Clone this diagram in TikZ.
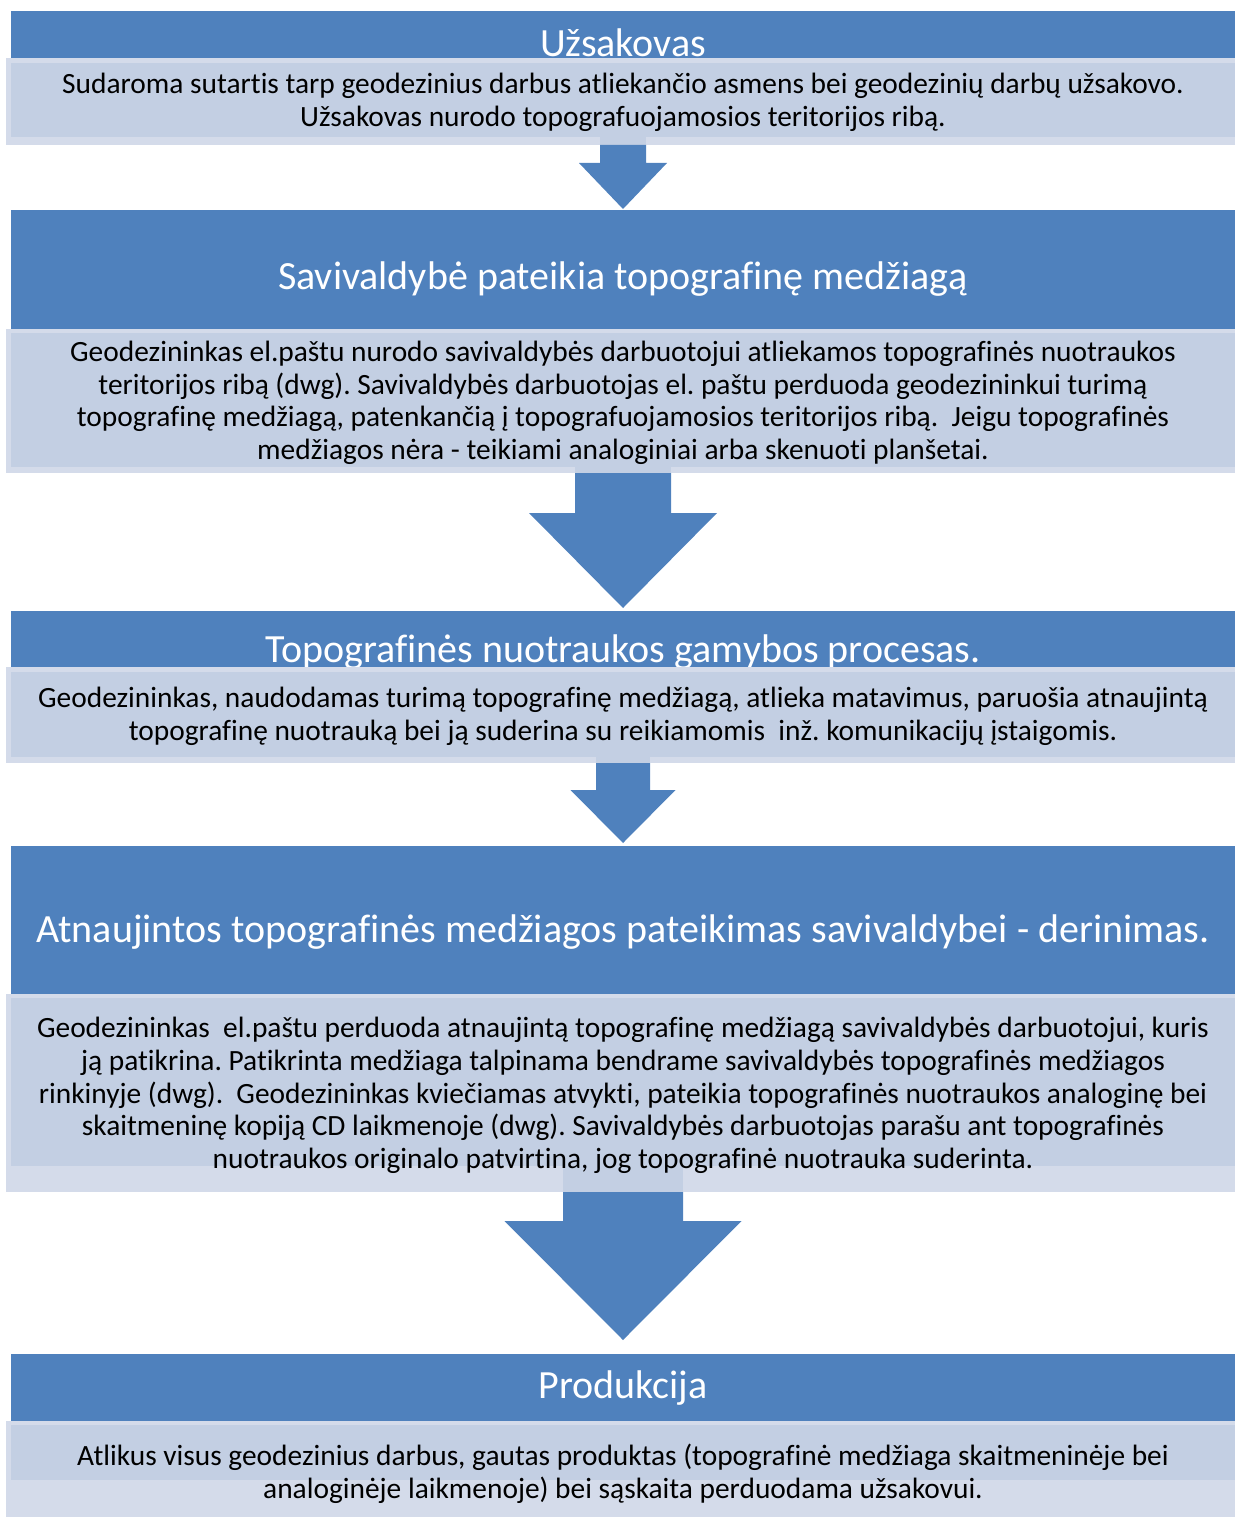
\documentclass[tikz,border=0pt]{standalone}
\usepackage{fontspec}
\setmainfont{Carlito}[Ligatures=CommonOff]
\frenchspacing
\definecolor{hblue}{HTML}{4F81BD}
\definecolor{bin}{HTML}{C3CFE3}
\definecolor{bout}{HTML}{D4DBEA}
\newcommand{\boxat}[6]{% name, style, x1, y1, x2, y2
  \node[#2, anchor=north west, minimum width=#5-#3, minimum height=#6-#4] (#1) at (#3,#4) {};}
\newcommand{\blockarr}[7]{% name, cx, top, headtop, tip, shafthalf, headhalf
  \fill[hblue] (#2-#6,#3) -- (#2-#6,#4) -- (#2-#7,#4) -- (#2,#5) -- (#2+#7,#4) -- (#2+#6,#4) -- (#2+#6,#3) -- cycle;
  \coordinate (#1) at (#2,#5);}
\begin{document}
\begin{tikzpicture}[x=1pt,y=-1pt,
  hdr/.style={fill=hblue, draw=none, inner sep=0, outer sep=0},
  bo/.style={fill=bout, draw=none, inner sep=0, outer sep=0},
  bi/.style={fill=bin, draw=none, inner sep=0, outer sep=0},
  ttl/.style={text=white, font=\fontsize{40}{48}\selectfont, inner sep=0},
  btxt/.style={text=black, font=\fontsize{29.4}{32.6}\selectfont\frenchspacing, align=center, inner sep=0}]
\useasboundingbox (0,0) rectangle (1235,1517);

% ---------- block 1
\boxat{h1}{hdr}{11}{11}{1235}{58}
\node[ttl] (t1) at (623,43) {Užsakovas};
\boxat{b1o}{bo}{6}{58}{1235}{145}
\boxat{b1i}{bi}{11}{63}{1235}{137}
\node[btxt] (x1) at (623,102.5) {Sudaroma sutartis tarp geodezinius darbus atliekančio asmens bei geodezinių darbų užsakovo.\\Užsakovas nurodo topografuojamosios teritorijos ribą.};
\fill[bin] (600,137) rectangle (646,145);
\blockarr{a1}{623}{145}{163}{209}{23}{44}

% ---------- block 2
\boxat{h2}{hdr}{11}{210}{1235}{329}
\node[ttl] (t2) at (623,279) {Savivaldybė pateikia topografinę medžiagą};
\boxat{b2o}{bo}{6}{329}{1235}{473}
\boxat{b2i}{bi}{11}{333}{1235}{467}
\node[btxt] (x2) at (623,403) {Geodezininkas el.paštu nurodo savivaldybės darbuotojui atliekamos topografinės nuotraukos\\teritorijos ribą (dwg). Savivaldybės darbuotojas el. paštu perduoda geodezininkui turimą\\topografinę medžiagą, patenkančią į topografuojamosios teritorijos ribą.\ \ Jeigu topografinės\\medžiagos nėra - teikiami analoginiai arba skenuoti planšetai.};
\fill[bin] (575,467) rectangle (671,473);
\blockarr{a2}{623}{473}{513}{608}{48}{94}

% ---------- block 3
\boxat{h3}{hdr}{11}{611}{1235}{667}
\node[ttl] (t3) at (623,652) {Topografinės nuotraukos gamybos procesas.};
\boxat{b3o}{bo}{6}{667}{1235}{763}
\boxat{b3i}{bi}{11}{672}{1235}{757}
\node[btxt] (x3) at (623,716.5) {Geodezininkas, naudodamas turimą topografinę medžiagą, atlieka matavimus, paruošia atnaujintą\\topografinę nuotrauką bei ją suderina su reikiamomis\ \ inž. komunikacijų įstaigomis.};
\fill[bin] (596,757) rectangle (650,763);
\blockarr{a3}{623}{763}{790}{843}{27}{52.5}

% ---------- block 4
\boxat{h4}{hdr}{11}{846}{1235}{994}
\node[ttl] (t4) at (623,932) {Atnaujintos topografinės medžiagos pateikimas savivaldybei - derinimas.};
\boxat{b4o}{bo}{6}{994}{1235}{1192}
\boxat{b4i}{bi}{11}{998}{1235}{1166}
\fill[bin] (563,1166) rectangle (683,1192);
\node[btxt] (x4) at (623,1095.5) {Geodezininkas\ \ el.paštu perduoda atnaujintą topografinę medžiagą savivaldybės darbuotojui, kuris\\ją patikrina. Patikrinta medžiaga talpinama bendrame savivaldybės topografinės medžiagos\\rinkinyje (dwg).\ \ Geodezininkas kviečiamas atvykti, pateikia topografinės nuotraukos analoginę bei\\skaitmeninę kopiją CD laikmenoje (dwg). Savivaldybės darbuotojas parašu ant topografinės\\nuotraukos originalo patvirtina, jog topografinė nuotrauka suderinta.};
\blockarr{a4}{623}{1192}{1221}{1340}{60}{118.5}

% ---------- block 5
\boxat{h5}{hdr}{11}{1354}{1235}{1421}
\node[ttl] (t5) at (623,1388) {Produkcija};
\boxat{b5o}{bo}{6}{1421}{1235}{1517}
\boxat{b5i}{bi}{11}{1425}{1235}{1480}
\node[btxt] (x5) at (623,1474) {Atlikus visus geodezinius darbus, gautas produktas (topografinė medžiaga skaitmeninėje bei\\analoginėje laikmenoje) bei sąskaita perduodama užsakovui.};
\end{tikzpicture}
\end{document}
